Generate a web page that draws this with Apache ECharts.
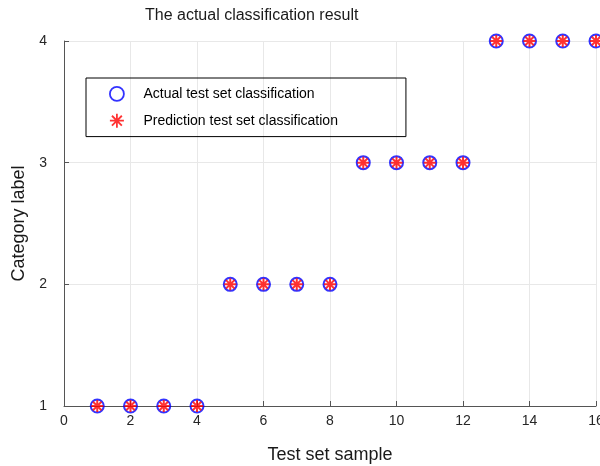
<!DOCTYPE html>
<html><head><meta charset="utf-8">
<script src="https://cdn.jsdelivr.net/npm/echarts@6/dist/echarts.min.js"></script>
<style>html,body{margin:0;padding:0;background:#fff;overflow:hidden}#c{width:600px;height:466px}</style>
</head><body><div id="c"></div>
<script>
const samples = [1,2,3,4,5,6,7,8,9,10,11,12,13,14,15,16];
const actual = [1,1,1,1,2,2,2,2,3,3,3,3,4,4,4,4];
const predicted = [1,1,1,1,2,2,2,2,3,3,3,3,4,4,4,4];
const xTicks = [0,2,4,6,8,10,12,14,16];
const yTicks = [1,2,3,4];

const chart = echarts.init(document.getElementById('c'), null, {width: 600, height: 466});
const font = 'Liberation Sans, Arial, Helvetica, sans-serif';
const star = 'path://M0,-10L0,10M-10,0L10,0M-7.07,-7.07L7.07,7.07M-7.07,7.07L7.07,-7.07';
chart.setOption({
  animation: false,
  title: {text: 'The actual classification result', left: 140, top: 3,
    textStyle: {fontFamily: font, fontSize: 16, fontWeight: 'normal', color: '#1a1a1a'}},
  grid: {left: 64, right: 4, top: 41, bottom: 60, containLabel: false, outerBoundsMode: 'none'},
  legend: {
    orient: 'vertical', left: 86, top: 78, borderColor: '#000', borderWidth: 1,
    padding: [8, 68, 8, 23], itemGap: 11, itemWidth: 29, itemHeight: 14,
    textStyle: {fontFamily: font, fontSize: 14, color: '#000', padding: [0, 0, 4, 7]},
    data: [
      {name: 'Actual test set classification', icon: 'circle',
        itemStyle: {color: 'transparent', borderColor: '#0000ff', borderWidth: 1.8}},
      {name: 'Prediction test set classification', icon: star,
        itemStyle: {color: 'transparent', borderColor: '#ff0000', borderWidth: 1.8}}
    ]
  },
  xAxis: {
    type: 'value', min: 0, max: 16, interval: 2,
    name: 'Test set sample', nameLocation: 'middle', nameGap: 40,
    nameTextStyle: {fontFamily: font, fontSize: 18, color: '#1a1a1a'},
    axisLine: {lineStyle: {color: '#555', width: 1}},
    axisTick: {inside: true, length: 5, lineStyle: {color: '#555'}},
    axisLabel: {fontFamily: font, fontSize: 14, color: '#262626', margin: 8,
      formatter: v => xTicks.includes(v) ? String(v) : ''},
    splitLine: {show: true, lineStyle: {color: '#e8e8e8'}}
  },
  yAxis: {
    type: 'value', min: 1, max: 4, interval: 1,
    name: 'Category label', nameLocation: 'middle', nameGap: 30, nameRotate: 90,
    nameTextStyle: {fontFamily: font, fontSize: 18, color: '#1a1a1a'},
    axisLine: {show: true, lineStyle: {color: '#555', width: 1}},
    axisTick: {show: true, inside: true, length: 5, lineStyle: {color: '#555'}},
    axisLabel: {fontFamily: font, fontSize: 14, color: '#262626', margin: 17,
      formatter: v => yTicks.includes(v) ? String(v) : ''},
    splitLine: {show: true, lineStyle: {color: '#e8e8e8'}}
  },
  series: [
    {name: 'Actual test set classification', type: 'scatter', clip: false,
      symbol: 'circle', symbolSize: 13,
      itemStyle: {color: 'transparent', borderColor: '#0000ff', borderWidth: 2}, 
      data: samples.map((x,i) => [x, actual[i]])},
    {name: 'Prediction test set classification', type: 'scatter', clip: false,
      symbol: star, symbolSize: 12,
      itemStyle: {color: 'transparent', borderColor: '#ff0000', borderWidth: 2},
      data: samples.map((x,i) => [x, predicted[i]])}
  ]
});
</script></body></html>
